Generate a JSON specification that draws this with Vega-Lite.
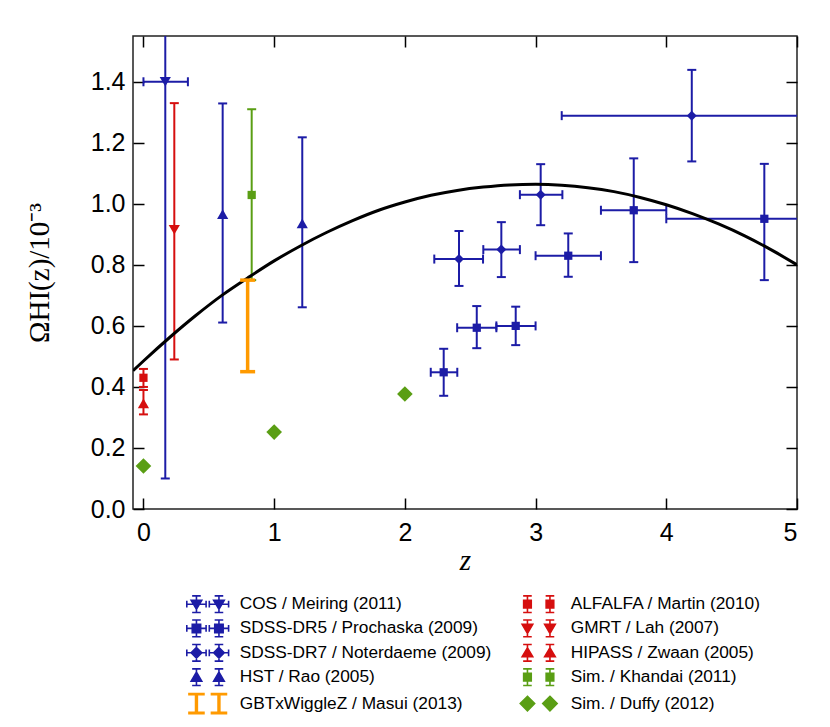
{
  "$schema": "https://vega.github.io/schema/vega-lite/v6.json",
  "width": 664,
  "height": 473,
  "autosize": {"type": "none"},
  "padding": {"left": 133, "top": 36, "right": 33, "bottom": 218},
  "background": "white",
  "config": {
    "view": {"stroke": "#222222", "strokeWidth": 1.5},
    "font": "Liberation Sans",
    "axis": {
      "grid": false, "domain": false, "tickColor": "black", "tickWidth": 1.5, "tickSize": -11,
      "labelFont": "Liberation Sans", "labelFontSize": 25, "labelColor": "black",
      "titleFont": "Liberation Serif", "titleFontSize": 29, "titleFontWeight": "normal", "titleColor": "black"
    }
  },
  "datasets": {
    "curve": [
      {"z": -0.08, "omega": 0.453}, {"z": 0, "omega": 0.485}, {"z": 0.2, "omega": 0.562},
      {"z": 0.4, "omega": 0.634}, {"z": 0.6, "omega": 0.7}, {"z": 0.8, "omega": 0.758},
      {"z": 1.0, "omega": 0.813}, {"z": 1.2, "omega": 0.862}, {"z": 1.4, "omega": 0.906},
      {"z": 1.6, "omega": 0.945}, {"z": 1.8, "omega": 0.979}, {"z": 2.0, "omega": 1.006},
      {"z": 2.2, "omega": 1.028}, {"z": 2.4, "omega": 1.044}, {"z": 2.6, "omega": 1.055},
      {"z": 2.8, "omega": 1.062}, {"z": 3.0, "omega": 1.064}, {"z": 3.2, "omega": 1.061},
      {"z": 3.4, "omega": 1.053}, {"z": 3.6, "omega": 1.04}, {"z": 3.8, "omega": 1.021},
      {"z": 4.0, "omega": 0.997}, {"z": 4.2, "omega": 0.968}, {"z": 4.4, "omega": 0.934},
      {"z": 4.6, "omega": 0.895}, {"z": 4.8, "omega": 0.85}, {"z": 5.0, "omega": 0.8}
    ],
    "obs": [
      {"series": "COS / Meiring (2011)", "z": 0.167, "y": 1.40, "ylo": 0.10, "yhi": 2.70, "zlo": 0.0, "zhi": 0.34},
      {"series": "GMRT / Lah (2007)", "z": 0.236, "y": 0.915, "ylo": 0.49, "yhi": 1.33},
      {"series": "HST / Rao (2005)", "z": 0.606, "y": 0.966, "ylo": 0.611, "yhi": 1.329},
      {"series": "HST / Rao (2005)", "z": 1.215, "y": 0.936, "ylo": 0.661, "yhi": 1.218},
      {"series": "Sim. / Khandai (2011)", "z": 0.828, "y": 1.029, "ylo": 0.75, "yhi": 1.31},
      {"series": "GBTxWiggleZ / Masui (2013)", "z": 0.797, "ylo": 0.45, "yhi": 0.75},
      {"series": "ALFALFA / Martin (2010)", "z": 0.0, "y": 0.430, "ylo": 0.40, "yhi": 0.459},
      {"series": "HIPASS / Zwaan (2005)", "z": 0.0, "y": 0.346, "ylo": 0.31, "yhi": 0.39},
      {"series": "Sim. / Duffy (2012)", "z": 0, "y": 0.141},
      {"series": "Sim. / Duffy (2012)", "z": 1, "y": 0.252},
      {"series": "Sim. / Duffy (2012)", "z": 2, "y": 0.377},
      {"series": "SDSS-DR5 / Prochaska (2009)", "z": 2.297, "y": 0.448, "ylo": 0.371, "yhi": 0.525, "zlo": 2.198, "zhi": 2.401},
      {"series": "SDSS-DR5 / Prochaska (2009)", "z": 2.55, "y": 0.594, "ylo": 0.527, "yhi": 0.665, "zlo": 2.4, "zhi": 2.7},
      {"series": "SDSS-DR5 / Prochaska (2009)", "z": 2.848, "y": 0.600, "ylo": 0.537, "yhi": 0.663, "zlo": 2.7, "zhi": 3.0},
      {"series": "SDSS-DR5 / Prochaska (2009)", "z": 3.25, "y": 0.830, "ylo": 0.761, "yhi": 0.903, "zlo": 3.0, "zhi": 3.5},
      {"series": "SDSS-DR5 / Prochaska (2009)", "z": 3.751, "y": 0.979, "ylo": 0.809, "yhi": 1.149, "zlo": 3.5, "zhi": 4.0},
      {"series": "SDSS-DR5 / Prochaska (2009)", "z": 4.75, "y": 0.951, "ylo": 0.750, "yhi": 1.131, "zlo": 4.0, "zhi": 5.5},
      {"series": "SDSS-DR7 / Noterdaeme (2009)", "z": 2.414, "y": 0.819, "ylo": 0.731, "yhi": 0.911, "zlo": 2.225, "zhi": 2.598},
      {"series": "SDSS-DR7 / Noterdaeme (2009)", "z": 2.738, "y": 0.850, "ylo": 0.760, "yhi": 0.940, "zlo": 2.6, "zhi": 2.88},
      {"series": "SDSS-DR7 / Noterdaeme (2009)", "z": 3.039, "y": 1.030, "ylo": 0.930, "yhi": 1.130, "zlo": 2.88, "zhi": 3.205},
      {"series": "SDSS-DR7 / Noterdaeme (2009)", "z": 4.195, "y": 1.289, "ylo": 1.139, "yhi": 1.439, "zlo": 3.2, "zhi": 5.5}
    ],
    "legendrows": [
      {"series": "COS / Meiring (2011)"}, {"series": "SDSS-DR5 / Prochaska (2009)"},
      {"series": "SDSS-DR7 / Noterdaeme (2009)"}, {"series": "HST / Rao (2005)"},
      {"series": "GBTxWiggleZ / Masui (2013)"}, {"series": "ALFALFA / Martin (2010)"},
      {"series": "GMRT / Lah (2007)"}, {"series": "HIPASS / Zwaan (2005)"},
      {"series": "Sim. / Khandai (2011)"}, {"series": "Sim. / Duffy (2012)"}
    ]
  },
  "encoding": {
    "color": {
      "field": "series", "type": "nominal", "legend": null,
      "scale": {
        "domain": ["COS / Meiring (2011)", "ALFALFA / Martin (2010)", "SDSS-DR5 / Prochaska (2009)", "GMRT / Lah (2007)", "SDSS-DR7 / Noterdaeme (2009)", "HIPASS / Zwaan (2005)", "HST / Rao (2005)", "Sim. / Khandai (2011)", "GBTxWiggleZ / Masui (2013)", "Sim. / Duffy (2012)"],
        "range": ["#1c1ca6", "#d60f0f", "#1c1ca6", "#d60f0f", "#1c1ca6", "#d60f0f", "#1c1ca6", "#5a9e14", "#ff9a00", "#5a9e14"]
      }
    }
  },
  "resolve": {"axis": {"x": "independent", "y": "independent"}},
  "layer": [
    {
      "data": {"name": "obs"},
      "transform": [{"filter": "isValid(datum.ylo) && datum.series !== 'GBTxWiggleZ / Masui (2013)'"}],
      "mark": {"type": "rule", "strokeWidth": 2, "clip": true},
      "encoding": {
        "x": {"field": "z", "type": "quantitative", "scale": {"domain": [-0.08, 5], "nice": false, "zero": false},
              "axis": {"orient": "top", "labels": false, "title": null, "values": [0, 1, 2, 3, 4, 5]}},
        "y": {"field": "ylo", "type": "quantitative", "scale": {"domain": [0, 1.55], "nice": false, "zero": false},
              "axis": {"orient": "right", "labels": false, "title": null, "values": [0, 0.2, 0.4, 0.6, 0.8, 1.0, 1.2, 1.4]}},
        "y2": {"field": "yhi"}
      }
    },
    {
      "data": {"name": "obs"},
      "transform": [
        {"filter": "isValid(datum.ylo) && datum.series !== 'GBTxWiggleZ / Masui (2013)'"},
        {"fold": ["ylo", "yhi"], "as": ["bound", "val"]}
      ],
      "mark": {"type": "tick", "orient": "horizontal", "size": 9, "thickness": 2, "opacity": 1, "clip": true},
      "encoding": {
        "x": {"field": "z", "type": "quantitative", "scale": {"domain": [-0.08, 5], "nice": false, "zero": false}, "axis": null},
        "y": {"field": "val", "type": "quantitative", "scale": {"domain": [0, 1.55], "nice": false, "zero": false}, "axis": null}
      }
    },
    {
      "data": {"name": "obs"},
      "transform": [{"filter": "isValid(datum.zlo)"}],
      "mark": {"type": "rule", "strokeWidth": 2, "clip": true},
      "encoding": {
        "x": {"field": "zlo", "type": "quantitative", "scale": {"domain": [-0.08, 5], "nice": false, "zero": false}, "axis": null},
        "x2": {"field": "zhi"},
        "y": {"field": "y", "type": "quantitative", "scale": {"domain": [0, 1.55], "nice": false, "zero": false}, "axis": null}
      }
    },
    {
      "data": {"name": "obs"},
      "transform": [
        {"filter": "isValid(datum.zlo)"},
        {"fold": ["zlo", "zhi"], "as": ["bound", "val"]}
      ],
      "mark": {"type": "tick", "orient": "vertical", "size": 9, "thickness": 2, "opacity": 1, "clip": true},
      "encoding": {
        "x": {"field": "val", "type": "quantitative", "scale": {"domain": [-0.08, 5], "nice": false, "zero": false}, "axis": null},
        "y": {"field": "y", "type": "quantitative", "scale": {"domain": [0, 1.55], "nice": false, "zero": false}, "axis": null}
      }
    },
    {
      "data": {"name": "obs"},
      "transform": [{"filter": {"field": "series", "oneOf": ["COS / Meiring (2011)", "GMRT / Lah (2007)"]}}],
      "mark": {"type": "point", "shape": "triangle-down", "filled": true, "size": 125, "opacity": 1, "clip": true},
      "encoding": {
        "x": {"field": "z", "type": "quantitative", "scale": {"domain": [-0.08, 5], "nice": false, "zero": false}, "axis": null},
        "y": {"field": "y", "type": "quantitative", "scale": {"domain": [0, 1.55], "nice": false, "zero": false}, "axis": null}
      }
    },
    {
      "data": {"name": "obs"},
      "transform": [{"filter": {"field": "series", "oneOf": ["HST / Rao (2005)", "HIPASS / Zwaan (2005)"]}}],
      "mark": {"type": "point", "shape": "triangle-up", "filled": true, "size": 125, "opacity": 1, "clip": true},
      "encoding": {
        "x": {"field": "z", "type": "quantitative", "scale": {"domain": [-0.08, 5], "nice": false, "zero": false}, "axis": null},
        "y": {"field": "y", "type": "quantitative", "scale": {"domain": [0, 1.55], "nice": false, "zero": false}, "axis": null}
      }
    },
    {
      "data": {"name": "obs"},
      "transform": [{"filter": {"field": "series", "oneOf": ["SDSS-DR5 / Prochaska (2009)", "ALFALFA / Martin (2010)", "Sim. / Khandai (2011)"]}}],
      "mark": {"type": "point", "shape": "square", "filled": true, "size": 68, "opacity": 1, "clip": true},
      "encoding": {
        "x": {"field": "z", "type": "quantitative", "scale": {"domain": [-0.08, 5], "nice": false, "zero": false}, "axis": null},
        "y": {"field": "y", "type": "quantitative", "scale": {"domain": [0, 1.55], "nice": false, "zero": false}, "axis": null}
      }
    },
    {
      "data": {"name": "obs"},
      "transform": [{"filter": {"field": "series", "oneOf": ["SDSS-DR7 / Noterdaeme (2009)"]}}],
      "mark": {"type": "point", "shape": "diamond", "filled": true, "size": 100, "opacity": 1, "clip": true},
      "encoding": {
        "x": {"field": "z", "type": "quantitative", "scale": {"domain": [-0.08, 5], "nice": false, "zero": false}, "axis": null},
        "y": {"field": "y", "type": "quantitative", "scale": {"domain": [0, 1.55], "nice": false, "zero": false}, "axis": null}
      }
    },
    {
      "data": {"name": "obs"},
      "transform": [{"filter": {"field": "series", "oneOf": ["Sim. / Duffy (2012)"]}}],
      "mark": {"type": "point", "shape": "diamond", "filled": true, "size": 245, "opacity": 1, "clip": true},
      "encoding": {
        "x": {"field": "z", "type": "quantitative", "scale": {"domain": [-0.08, 5], "nice": false, "zero": false}, "axis": null},
        "y": {"field": "y", "type": "quantitative", "scale": {"domain": [0, 1.55], "nice": false, "zero": false}, "axis": null}
      }
    },
    {
      "data": {"name": "curve"},
      "mark": {"type": "line", "strokeWidth": 3, "interpolate": "monotone", "clip": true},
      "encoding": {
        "x": {"field": "z", "type": "quantitative", "scale": {"domain": [-0.08, 5], "nice": false, "zero": false},
              "axis": {"orient": "bottom", "values": [0, 1, 2, 3, 4, 5], "format": "d", "title": "z", "titleFontStyle": "italic", "labelPadding": 22, "titlePadding": 1}},
        "y": {"field": "omega", "type": "quantitative", "scale": {"domain": [0, 1.55], "nice": false, "zero": false},
              "axis": {"orient": "left", "values": [0, 0.2, 0.4, 0.6, 0.8, 1.0, 1.2, 1.4], "format": ".1f", "title": "ΩHI(z)/10⁻³", "labelPadding": 19, "titlePadding": 36}},
        "color": {"value": "black"}
      }
    },
    {
      "data": {"name": "obs"},
      "transform": [{"filter": "datum.series === 'GBTxWiggleZ / Masui (2013)'"}],
      "mark": {"type": "rule", "strokeWidth": 3.5, "clip": true},
      "encoding": {
        "x": {"field": "z", "type": "quantitative", "scale": {"domain": [-0.08, 5], "nice": false, "zero": false}, "axis": null},
        "y": {"field": "ylo", "type": "quantitative", "scale": {"domain": [0, 1.55], "nice": false, "zero": false}, "axis": null},
        "y2": {"field": "yhi"}
      }
    },
    {
      "data": {"name": "obs"},
      "transform": [
        {"filter": "datum.series === 'GBTxWiggleZ / Masui (2013)'"},
        {"fold": ["ylo", "yhi"], "as": ["bound", "val"]}
      ],
      "mark": {"type": "tick", "orient": "horizontal", "size": 15, "thickness": 3.5, "opacity": 1, "clip": true},
      "encoding": {
        "x": {"field": "z", "type": "quantitative", "scale": {"domain": [-0.08, 5], "nice": false, "zero": false}, "axis": null},
        "y": {"field": "val", "type": "quantitative", "scale": {"domain": [0, 1.55], "nice": false, "zero": false}, "axis": null}
      }
    },
    {
      "data": {"name": "legendrows"},
      "mark": {"type": "point", "filled": true, "size": 0, "opacity": 1},
      "encoding": {
        "color": {"value": "black"},
        "fill": {
          "field": "series", "type": "nominal",
          "scale": {
            "domain": ["COS / Meiring (2011)", "SDSS-DR5 / Prochaska (2009)", "SDSS-DR7 / Noterdaeme (2009)", "HST / Rao (2005)", "GBTxWiggleZ / Masui (2013)", "ALFALFA / Martin (2010)", "GMRT / Lah (2007)", "HIPASS / Zwaan (2005)", "Sim. / Khandai (2011)", "Sim. / Duffy (2012)"],
            "range": ["#1c1ca6", "#1c1ca6", "#1c1ca6", "#1c1ca6", "#ff9a00", "#d60f0f", "#d60f0f", "#d60f0f", "#5a9e14", "#5a9e14"]
          },
          "legend": {"title": null, "orient": "none", "legendX": 63.7, "legendY": 557, "columns": 2, "symbolSize": 400, "symbolStrokeWidth": 1.6, "symbolOpacity": 1, "labelFont": "Liberation Sans", "labelFontSize": 17.3, "labelColor": "black", "labelOffset": 21, "labelLimit": 500, "rowPadding": 0.4, "columnPadding": 25, "padding": 0}
        },
        "stroke": {
          "field": "series", "type": "nominal",
          "scale": {
            "domain": ["COS / Meiring (2011)", "SDSS-DR5 / Prochaska (2009)", "SDSS-DR7 / Noterdaeme (2009)", "HST / Rao (2005)", "GBTxWiggleZ / Masui (2013)", "ALFALFA / Martin (2010)", "GMRT / Lah (2007)", "HIPASS / Zwaan (2005)", "Sim. / Khandai (2011)", "Sim. / Duffy (2012)"],
            "range": ["#1c1ca6", "#1c1ca6", "#1c1ca6", "#1c1ca6", "#ff9a00", "#d60f0f", "#d60f0f", "#d60f0f", "#5a9e14", "#5a9e14"]
          },
          "legend": {"title": null, "orient": "none", "legendX": 63.7, "legendY": 557, "columns": 2, "symbolSize": 400, "symbolStrokeWidth": 1.6, "symbolOpacity": 1, "labelFont": "Liberation Sans", "labelFontSize": 17.3, "labelColor": "black", "labelOffset": 21, "labelLimit": 500, "rowPadding": 0.4, "columnPadding": 25, "padding": 0}
        },
        "shape": {
          "field": "series", "type": "nominal",
          "scale": {
            "domain": ["COS / Meiring (2011)", "SDSS-DR5 / Prochaska (2009)", "SDSS-DR7 / Noterdaeme (2009)", "HST / Rao (2005)", "GBTxWiggleZ / Masui (2013)", "ALFALFA / Martin (2010)", "GMRT / Lah (2007)", "HIPASS / Zwaan (2005)", "Sim. / Khandai (2011)", "Sim. / Duffy (2012)"],
            "range": [
              "M -1.125 -0.835 L -1.125 0.835 M -1.555 -0.835 L -0.695 -0.835 M -1.555 0.835 L -0.695 0.835 M -2.09 0 L -0.16 0 M -2.09 -0.34 L -2.09 0.34 M -0.16 -0.34 L -0.16 0.34 M -1.655 -0.4 L -0.595 -0.4 L -1.125 0.5 Z M 1.125 -0.835 L 1.125 0.835 M 0.695 -0.835 L 1.555 -0.835 M 0.695 0.835 L 1.555 0.835 M 0.16 0 L 2.09 0 M 0.16 -0.34 L 0.16 0.34 M 2.09 -0.34 L 2.09 0.34 M 0.595 -0.4 L 1.655 -0.4 L 1.125 0.5 Z",
              "M -1.125 -0.835 L -1.125 0.835 M -1.555 -0.835 L -0.695 -0.835 M -1.555 0.835 L -0.695 0.835 M -2.09 0 L -0.16 0 M -2.09 -0.34 L -2.09 0.34 M -0.16 -0.34 L -0.16 0.34 M -1.545 -0.42 L -0.705 -0.42 L -0.705 0.42 L -1.545 0.42 Z M 1.125 -0.835 L 1.125 0.835 M 0.695 -0.835 L 1.555 -0.835 M 0.695 0.835 L 1.555 0.835 M 0.16 0 L 2.09 0 M 0.16 -0.34 L 0.16 0.34 M 2.09 -0.34 L 2.09 0.34 M 0.705 -0.42 L 1.545 -0.42 L 1.545 0.42 L 0.705 0.42 Z",
              "M -1.125 -0.835 L -1.125 0.835 M -1.555 -0.835 L -0.695 -0.835 M -1.555 0.835 L -0.695 0.835 M -2.09 0 L -0.16 0 M -2.09 -0.34 L -2.09 0.34 M -0.16 -0.34 L -0.16 0.34 M -1.125 -0.53 L -0.595 0 L -1.125 0.53 L -1.655 0 Z M 1.125 -0.835 L 1.125 0.835 M 0.695 -0.835 L 1.555 -0.835 M 0.695 0.835 L 1.555 0.835 M 0.16 0 L 2.09 0 M 0.16 -0.34 L 0.16 0.34 M 2.09 -0.34 L 2.09 0.34 M 1.125 -0.53 L 1.655 0 L 1.125 0.53 L 0.595 0 Z",
              "M -1.125 -0.835 L -1.125 0.835 M -1.555 -0.835 L -0.695 -0.835 M -1.555 0.835 L -0.695 0.835 M -1.655 0.4 L -0.595 0.4 L -1.125 -0.5 Z M 1.125 -0.835 L 1.125 0.835 M 0.695 -0.835 L 1.555 -0.835 M 0.695 0.835 L 1.555 0.835 M 0.595 0.4 L 1.655 0.4 L 1.125 -0.5 Z",
              "M -1.215 -1 L -1.035 -1 L -1.035 1 L -1.215 1 Z M -1.875 -1 L -0.375 -1 L -0.375 -0.88 L -1.875 -0.88 Z M -1.875 0.88 L -0.375 0.88 L -0.375 1 L -1.875 1 Z M 1.035 -1 L 1.215 -1 L 1.215 1 L 1.035 1 Z M 0.375 -1 L 1.875 -1 L 1.875 -0.88 L 0.375 -0.88 Z M 0.375 0.88 L 1.875 0.88 L 1.875 1 L 0.375 1 Z",
              "M -1.125 -0.835 L -1.125 0.835 M -1.555 -0.835 L -0.695 -0.835 M -1.555 0.835 L -0.695 0.835 M -1.505 -0.38 L -0.745 -0.38 L -0.745 0.38 L -1.505 0.38 Z M 1.125 -0.835 L 1.125 0.835 M 0.695 -0.835 L 1.555 -0.835 M 0.695 0.835 L 1.555 0.835 M 0.745 -0.38 L 1.505 -0.38 L 1.505 0.38 L 0.745 0.38 Z",
              "M -1.125 -0.835 L -1.125 0.835 M -1.555 -0.835 L -0.695 -0.835 M -1.555 0.835 L -0.695 0.835 M -1.655 -0.4 L -0.595 -0.4 L -1.125 0.5 Z M 1.125 -0.835 L 1.125 0.835 M 0.695 -0.835 L 1.555 -0.835 M 0.695 0.835 L 1.555 0.835 M 0.595 -0.4 L 1.655 -0.4 L 1.125 0.5 Z",
              "M -1.125 -0.835 L -1.125 0.835 M -1.555 -0.835 L -0.695 -0.835 M -1.555 0.835 L -0.695 0.835 M -1.655 0.4 L -0.595 0.4 L -1.125 -0.5 Z M 1.125 -0.835 L 1.125 0.835 M 0.695 -0.835 L 1.555 -0.835 M 0.695 0.835 L 1.555 0.835 M 0.595 0.4 L 1.655 0.4 L 1.125 -0.5 Z",
              "M -1.125 -0.835 L -1.125 0.835 M -1.555 -0.835 L -0.695 -0.835 M -1.555 0.835 L -0.695 0.835 M -1.505 -0.38 L -0.745 -0.38 L -0.745 0.38 L -1.505 0.38 Z M 1.125 -0.835 L 1.125 0.835 M 0.695 -0.835 L 1.555 -0.835 M 0.695 0.835 L 1.555 0.835 M 0.745 -0.38 L 1.505 -0.38 L 1.505 0.38 L 0.745 0.38 Z",
              "M -1.125 -0.72 L -0.405 0 L -1.125 0.72 L -1.845 0 Z M 1.125 -0.72 L 1.845 0 L 1.125 0.72 L 0.405 0 Z"
            ]
          },
          "legend": {"title": null, "orient": "none", "legendX": 63.7, "legendY": 557, "columns": 2, "symbolSize": 400, "symbolStrokeWidth": 1.6, "symbolOpacity": 1, "labelFont": "Liberation Sans", "labelFontSize": 17.3, "labelColor": "black", "labelOffset": 21, "labelLimit": 500, "rowPadding": 0.4, "columnPadding": 25, "padding": 0}
        }
      }
    }
  ]
}
